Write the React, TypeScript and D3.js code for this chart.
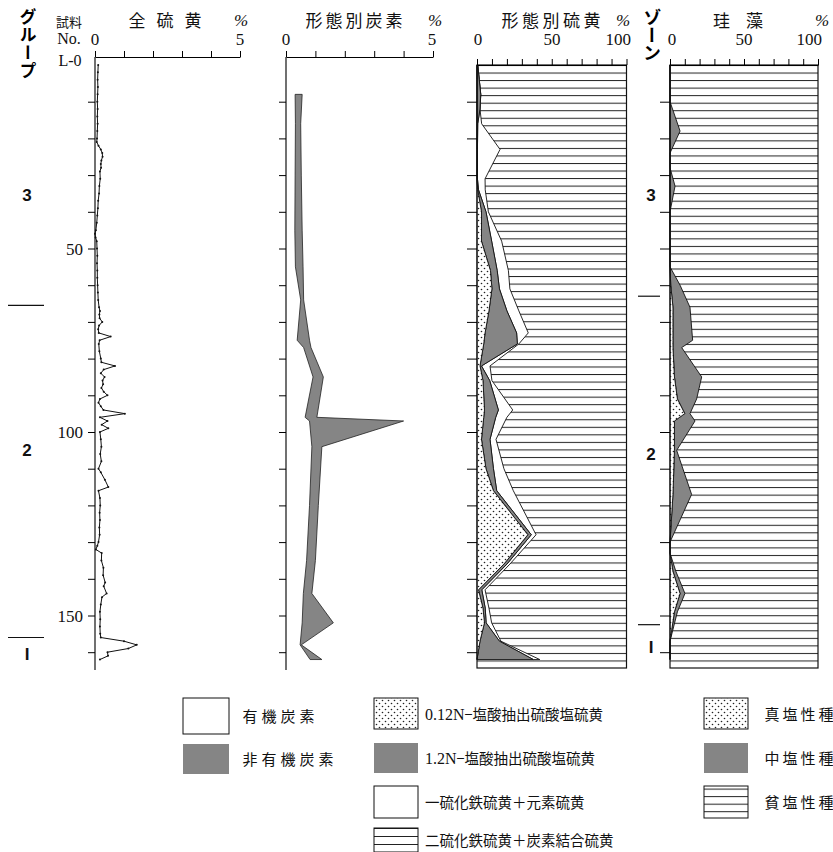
import React, { useEffect, useRef } from 'react'
import * as d3 from 'd3'

// 全硫黄 (%), sample No. L-0 ... L-162
const sulfurNo = [0, 2, 4, 6, 8, 10, 12, 14, 16, 18, 20, 21, 22, 23, 24, 25, 26, 27, 28, 29, 31, 33, 35, 37, 39, 41, 43, 45, 46, 47, 48, 50, 52, 54, 56, 58, 60, 62, 64, 66, 67, 68, 69, 70, 71, 72, 73, 74, 75, 76, 78, 80, 81, 82, 83, 84, 85, 86, 87, 88, 89, 90, 91, 92, 93, 94, 95, 96, 97, 98, 99, 100, 102, 104, 106, 108, 110, 111, 113, 115, 116, 118, 120, 122, 124, 126, 128, 130, 131, 132, 133, 135, 137, 139, 141, 142, 144, 145, 147, 149, 151, 153, 155, 156, 157, 158, 159, 160, 161, 162]
const sulfurPct = [0.11, 0.1, 0.09, 0.1, 0.09, 0.08, 0.09, 0.08, 0.09, 0.08, 0.07, 0.06, 0.12, 0.2, 0.25, 0.26, 0.22, 0.2, 0.21, 0.17, 0.18, 0.15, 0.14, 0.11, 0.1, 0.08, 0.06, 0.03, 0.0, 0.02, 0.06, 0.07, 0.08, 0.07, 0.08, 0.08, 0.09, 0.1, 0.11, 0.14, 0.17, 0.15, 0.16, 0.25, 0.14, 0.11, 0.13, 0.54, 0.16, 0.13, 0.15, 0.2, 0.22, 0.69, 0.3, 0.2, 0.33, 0.26, 0.28, 0.22, 0.3, 0.43, 0.17, 0.12, 0.2, 0.29, 1.03, 0.17, 0.43, 0.23, 0.46, 0.17, 0.2, 0.22, 0.18, 0.22, 0.12, 0.2, 0.34, 0.46, 0.12, 0.17, 0.18, 0.16, 0.17, 0.15, 0.16, 0.12, 0.08, 0.03, 0.23, 0.22, 0.29, 0.28, 0.35, 0.3, 0.4, 0.24, 0.2, 0.17, 0.18, 0.17, 0.18, 0.2, 1.0, 1.44, 1.15, 0.43, 0.45, 0.17]

// 形態別炭素 (%)
const carbonNo = [8, 16, 30, 45, 55, 64, 75, 77, 85, 96, 97, 104, 120, 135, 144, 152, 158, 162]
const organicC = [0.31, 0.32, 0.31, 0.3, 0.32, 0.5, 0.38, 0.6, 0.92, 0.65, 0.8, 0.88, 0.8, 0.7, 0.59, 0.55, 0.48, 0.82]
const inorganicC = [0.24, 0.18, 0.21, 0.25, 0.26, 0.1, 0.42, 0.25, 0.35, 0.4, 3.2, 0.34, 0.3, 0.3, 0.29, 1.06, 0.04, 0.4]

// 形態別硫黄 (%)
const formNo = [0, 4, 8, 12, 16, 23, 31, 34, 40, 48, 56, 61, 67, 73, 76, 82, 86, 94, 96, 102, 110, 116, 128, 136, 143, 148, 152, 157, 162]
const sulfate012 = [0, 0, 0, 0, 0, 0, 0, 0.5, 3, 3, 9, 10, 8, 5.4, 4.5, 2, 4, 5, 4.5, 3, 6, 11, 34, 18, 1, 4, 5, 2, 0]
const sulfate12 = [0.5, 1.5, 2.5, 2, 0.5, 0.3, 0.3, 0.5, 3, 6.8, 4.5, 5, 12, 21.1, 22.5, 1, 4.5, 9.3, 8, 5.7, 5, 2.2, 2.3, 2, 2.2, 1.5, 1.1, 13, 37.7]
const monoSulfide = [0, 0, 0, 0, 2.6, 15.1, 5.1, 4.5, 1.6, 6.7, 7.5, 7, 8, 7.8, 1, 5.7, 1.5, 9.6, 7.5, 4, 7, 11.1, 3.2, 2, 2.2, 2.5, 3.7, 1, 4.3]

// 珪藻 (%)
const diatomNo = [0, 10, 18, 24, 28, 33, 40, 55, 60, 66, 75, 77, 85, 91, 95, 97, 105, 117, 130, 133, 138, 144, 149, 157, 162]
const euhaline = [0, 0, 0, 0, 0, 0, 0, 0, 0.5, 2, 2, 2, 3, 5, 10, 3, 3, 2, 0, 0, 2, 6.8, 3, 0, 0]
const mesohaline = [0, 0, 6.8, 0, 0, 3.4, 0, 0, 6.3, 11.5, 13.3, 5.9, 18.4, 13, 3.5, 13.9, 1.5, 12.6, 0, 0, 2, 3.3, 2, 0, 0]

// グループ / ゾーン
const groupLabels = ['3', '2', 'I']
const groupLabelNo = [35.5, 105, 160.5]
const groupBounds = [65.5, 156]
const zoneLabels = ['3', '2', 'I']
const zoneLabelNo = [35.5, 106, 158.5]
const zoneBounds = [63, 152.5]

const App = () => {
  const svgRef = useRef(null)

  useEffect(() => {
    const svg = d3.select(svgRef.current)
    svg.selectAll('*').remove()

    const serif = '"Liberation Serif", "DejaVu Serif", serif'
    const jp = '"Noto Sans CJK JP", sans-serif'
    const sans = '"Liberation Sans", Arial, sans-serif'
    const gray = '#858585'

    const y = d3.scaleLinear().domain([0, 160]).range([65, 652.2])
    const xS = d3.scaleLinear().domain([0, 5]).range([95, 240])
    const xC = d3.scaleLinear().domain([0, 5]).range([286, 433])
    const xF = d3.scaleLinear().domain([0, 100]).range([477, 626.5])
    const xD = d3.scaleLinear().domain([0, 100]).range([670, 818])

    const boxTop = 65
    const boxBottom = 668
    const lineStep = (boxBottom - boxTop) / 80

    // patterns
    const defs = svg.append('defs')
    const hatch = defs.append('pattern').attr('id', 'hatch')
      .attr('patternUnits', 'userSpaceOnUse')
      .attr('x', 0).attr('y', boxTop)
      .attr('width', 20).attr('height', lineStep)
    hatch.append('rect').attr('width', 20).attr('height', lineStep).attr('fill', '#fff')
    hatch.append('rect').attr('width', 20).attr('height', 1).attr('fill', '#222')

    const dots = defs.append('pattern').attr('id', 'dots')
      .attr('patternUnits', 'userSpaceOnUse')
      .attr('width', 6).attr('height', 6)
    dots.append('rect').attr('width', 6).attr('height', 6).attr('fill', '#fff')
    dots.append('circle').attr('cx', 1.5).attr('cy', 1.5).attr('r', 0.8).attr('fill', '#222')
    dots.append('circle').attr('cx', 4.5).attr('cy', 4.5).attr('r', 0.8).attr('fill', '#222')

    const legendHatch = defs.append('pattern').attr('id', 'legendHatch')
      .attr('patternUnits', 'userSpaceOnUse')
      .attr('x', 0).attr('y', 828)
      .attr('width', 20).attr('height', 8)
    legendHatch.append('rect').attr('width', 20).attr('height', 8).attr('fill', '#fff')
    legendHatch.append('rect').attr('width', 20).attr('height', 1).attr('fill', '#222')

    const sideTicks = (x, size) => {
      svg.append('g')
        .attr('transform', `translate(${x},0)`)
        .call(d3.axisLeft(y).tickValues(d3.range(10, 161, 10)).tickSize(size).tickFormat(() => ''))
        .call(g => g.select('.domain').remove())
    }

    const topTicks = (scale, values, top) => {
      svg.append('g')
        .attr('transform', `translate(0,${top})`)
        .call(d3.axisTop(scale).tickValues(values).tickSize(6).tickSizeOuter(0).tickFormat(() => ''))
    }

    const text = (x, yy, s, opts = {}) => {
      const t = svg.append('text')
        .attr('x', x).attr('y', yy)
        .attr('font-family', opts.family || jp)
        .attr('font-size', opts.size || 16)
        .attr('text-anchor', opts.anchor || 'middle')
        .attr('fill', '#111')
        .text(s)
      if (opts.weight) t.attr('font-weight', opts.weight)
      if (opts.style) t.attr('font-style', opts.style)
      return t
    }

    // evenly spaced characters, centred on cx
    const spaced = (cx, yy, s, step, size = 17) => {
      const chars = Array.from(s)
      chars.forEach((c, i) => {
        text(cx + (i - (chars.length - 1) / 2) * step, yy, c, { size })
      })
    }

    // ---- left labels
    svg.append('text')
      .attr('x', 28).attr('y', 8)
      .attr('font-family', jp).attr('font-size', 17).attr('font-weight', 700)
      .style('writing-mode', 'vertical-rl')
      .attr('letter-spacing', 1)
      .text('グループ')
    text(69, 27, '試料', { size: 13 })
    text(69, 44, 'No.', { family: serif, size: 16 })
    text(70, 66, 'L-0', { family: serif, size: 16 })

    groupLabels.forEach((g, i) => {
      text(27, y(groupLabelNo[i]) + 6, g, { family: sans, size: 17, weight: 700 })
    })
    groupBounds.forEach(b => {
      svg.append('line').attr('x1', 8).attr('x2', 44).attr('y1', y(b)).attr('y2', y(b))
        .attr('stroke', '#111').attr('stroke-width', 1.2)
    })

    // ---- panel 1: 全硫黄
    spaced(165, 27, '全硫黄', 28)
    text(241, 26, '%', { family: serif, size: 17, style: 'italic' })
    text(95, 45, '0', { family: serif, size: 17 })
    text(240, 45, '5', { family: serif, size: 17 })
    topTicks(xS, [0, 1, 2, 3, 4, 5], 57)
    svg.append('line').attr('x1', 95).attr('x2', 95).attr('y1', 57).attr('y2', 670)
      .attr('stroke', '#111').attr('stroke-width', 1.2)
    sideTicks(95, 7)
    ;[50, 100, 150].forEach(v => {
      text(83, y(v) + 6, String(v), { family: serif, size: 17, anchor: 'end' })
    })

    const sLine = d3.line().x((d, i) => xS(sulfurPct[i])).y(d => y(d))
    svg.append('path').attr('d', sLine(sulfurNo))
      .attr('fill', 'none').attr('stroke', '#111').attr('stroke-width', 1)
    svg.append('g').selectAll('circle').data(sulfurNo).enter().append('circle')
      .attr('cx', (d, i) => xS(sulfurPct[i])).attr('cy', d => y(d)).attr('r', 1)
      .attr('fill', '#111')

    // ---- panel 2: 形態別炭素
    spaced(354, 27, '形態別炭素', 20)
    text(435, 26, '%', { family: serif, size: 17, style: 'italic' })
    text(286, 45, '0', { family: serif, size: 17 })
    text(432, 45, '5', { family: serif, size: 17 })
    topTicks(xC, [0, 1, 2, 3, 4, 5], 57)
    svg.append('line').attr('x1', 286).attr('x2', 286).attr('y1', 57).attr('y2', 670)
      .attr('stroke', '#111').attr('stroke-width', 1.2)
    sideTicks(286, 7)

    const cArea = d3.area()
      .y(d => y(d))
      .x0((d, i) => xC(organicC[i]))
      .x1((d, i) => xC(organicC[i] + inorganicC[i]))
    svg.append('path').attr('d', cArea(carbonNo))
      .attr('fill', gray).attr('stroke', '#222').attr('stroke-width', 0.8)

    // ---- panel 3: 形態別硫黄
    spaced(551, 27, '形態別硫黄', 20.5)
    text(623, 26, '%', { family: serif, size: 17, style: 'italic' })
    text(478, 45, '0', { family: serif, size: 17 })
    text(552, 45, '50', { family: serif, size: 17 })
    text(631, 45, '100', { family: serif, size: 17, anchor: 'end' })

    svg.append('rect').attr('x', xF(0)).attr('y', boxTop)
      .attr('width', xF(100) - xF(0)).attr('height', boxBottom - boxTop)
      .attr('fill', 'url(#hatch)')

    const cum1 = sulfate012
    const cum2 = sulfate012.map((v, i) => v + sulfate12[i])
    const cum3 = cum2.map((v, i) => v + monoSulfide[i])
    const layer = (scale, nos, lo, hi, fill) => {
      const a = d3.area()
        .y(d => y(d))
        .x0((d, i) => scale(lo[i]))
        .x1((d, i) => scale(hi[i]))
      svg.append('path').attr('d', a(nos))
        .attr('fill', fill).attr('stroke', '#111').attr('stroke-width', 0.9)
    }
    const zeros = formNo.map(() => 0)
    layer(xF, formNo, cum2, cum3, '#fff')
    layer(xF, formNo, cum1, cum2, gray)
    layer(xF, formNo, zeros, cum1, 'url(#dots)')

    svg.append('rect').attr('x', xF(0)).attr('y', boxTop)
      .attr('width', xF(100) - xF(0)).attr('height', boxBottom - boxTop)
      .attr('fill', 'none').attr('stroke', '#111').attr('stroke-width', 1.2)
    topTicks(xF, d3.range(0, 101, 10), boxTop)
    sideTicks(xF(0), 10)

    // ---- zone column
    svg.append('text')
      .attr('x', 652).attr('y', 8)
      .attr('font-family', jp).attr('font-size', 18).attr('font-weight', 700)
      .style('writing-mode', 'vertical-rl')
      .text('ゾーン')
    zoneLabels.forEach((z, i) => {
      text(651, y(zoneLabelNo[i]) + 6, z, { family: sans, size: 17, weight: 700 })
    })
    zoneBounds.forEach(b => {
      svg.append('line').attr('x1', 638).attr('x2', 660).attr('y1', y(b)).attr('y2', y(b))
        .attr('stroke', '#111').attr('stroke-width', 1.2)
    })

    // ---- panel 4: 珪藻
    spaced(738, 27, '珪藻', 33)
    text(822, 26, '%', { family: serif, size: 17, style: 'italic' })
    text(672, 45, '0', { family: serif, size: 17 })
    text(744, 45, '50', { family: serif, size: 17 })
    text(822, 45, '100', { family: serif, size: 17, anchor: 'end' })

    svg.append('rect').attr('x', xD(0)).attr('y', boxTop)
      .attr('width', xD(100) - xD(0)).attr('height', boxBottom - boxTop)
      .attr('fill', 'url(#hatch)')
    const dz = diatomNo.map(() => 0)
    const dCum = euhaline.map((v, i) => v + mesohaline[i])
    layer(xD, diatomNo, euhaline, dCum, gray)
    layer(xD, diatomNo, dz, euhaline, 'url(#dots)')
    svg.append('rect').attr('x', xD(0)).attr('y', boxTop)
      .attr('width', xD(100) - xD(0)).attr('height', boxBottom - boxTop)
      .attr('fill', 'none').attr('stroke', '#111').attr('stroke-width', 1.2)
    topTicks(xD, d3.range(0, 101, 10), boxTop)
    sideTicks(xD(0), 10)

    // ---- legend
    const legend = [
      { x: 183, y: 698, w: 46, h: 36, fill: '#fff', label: '有機炭素', col: 1 },
      { x: 183, y: 744, w: 46, h: 30, fill: gray, label: '非有機炭素', col: 1, noStroke: true },
      { x: 374, y: 698, w: 44, h: 31, fill: 'url(#dots)', label: '0.12N−塩酸抽出硫酸塩硫黄', col: 2 },
      { x: 374, y: 743, w: 44, h: 30, fill: gray, label: '1.2N−塩酸抽出硫酸塩硫黄', col: 2, noStroke: true },
      { x: 374, y: 786, w: 44, h: 32, fill: '#fff', label: '一硫化鉄硫黄＋元素硫黄', col: 2 },
      { x: 374, y: 828, w: 44, h: 24, fill: 'url(#legendHatch)', label: '二硫化鉄硫黄＋炭素結合硫黄', col: 2 },
      { x: 704, y: 698, w: 44, h: 31, fill: 'url(#dots)', label: '真塩性種', col: 3 },
      { x: 704, y: 743, w: 44, h: 30, fill: gray, label: '中塩性種', col: 3, noStroke: true },
      { x: 704, y: 786, w: 44, h: 32, fill: 'url(#hatch)', label: '貧塩性種', col: 3 }
    ]
    legend.forEach(d => {
      svg.append('rect').attr('x', d.x).attr('y', d.y).attr('width', d.w).attr('height', d.h)
        .attr('fill', d.fill)
        .attr('stroke', d.noStroke ? 'none' : '#111').attr('stroke-width', 1)
      const ty = d.y + d.h / 2 + 6
      if (d.col === 2) {
        const m = d.label.match(/^([0-9.]+N)(.*)$/)
        const t = svg.append('text').attr('x', d.x + d.w + 7).attr('y', ty)
          .attr('font-family', jp).attr('font-size', 14.5).attr('fill', '#111')
        if (m) {
          t.append('tspan').attr('font-family', serif).attr('font-size', 16).text(m[1])
          t.append('tspan').text(m[2])
        } else {
          t.text(d.label)
        }
      } else {
        const step = d.col === 1 ? 19 : 18
        const x0 = d.x + d.w + (d.col === 1 ? 21 : 24)
        Array.from(d.label).forEach((c, i) => {
          text(x0 + i * step, ty, c, { size: 15 })
        })
      }
    })
  }, [])

  return (
    <svg ref={svgRef} width='833' height='852'
      style={{ position: 'absolute', left: 0, top: 0, background: '#fff' }} />
  )
}

export default App
